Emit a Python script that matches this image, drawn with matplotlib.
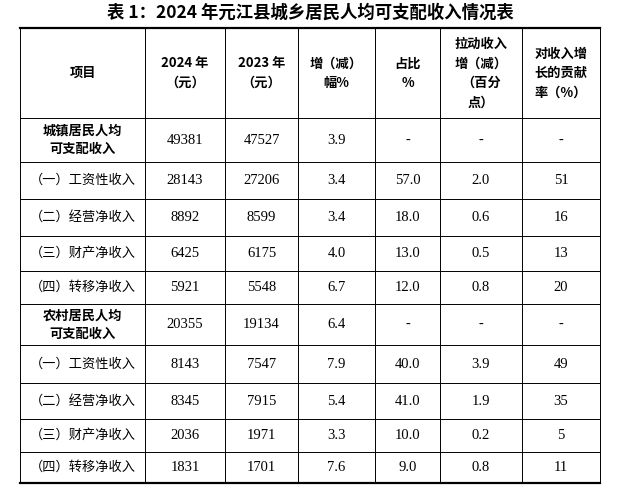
import matplotlib
matplotlib.use("Agg")
import matplotlib.pyplot as plt

plt.rcParams['font.family'] = ['Noto Sans CJK SC', 'DejaVu Sans']

title = "表 1：2024 年元江县城乡居民人均可支配收入情况表"
headers = ["项目", "2024 年\n（元）", "2023 年\n（元）", "增（减）\n幅%", "占比\n%", "拉动收入\n增（减）\n（百分\n点）", "对收入增\n长的贡献\n率（%）"]
items = ["城镇居民人均\n可支配收入", "（一）工资性收入", "（二）经营净收入", "（三）财产净收入", "（四）转移净收入",
         "农村居民人均\n可支配收入", "（一）工资性收入", "（二）经营净收入", "（三）财产净收入", "（四）转移净收入"]
bold_rows = [0, 5]
v2024 = ["49381", "28143", "8892", "6425", "5921", "20355", "8143", "8345", "2036", "1831"]
v2023 = ["47527", "27206", "8599", "6175", "5548", "19134", "7547", "7915", "1971", "1701"]
growth = ["3.9", "3.4", "3.4", "4.0", "6.7", "6.4", "7.9", "5.4", "3.3", "7.6"]
share = ["-", "57.0", "18.0", "13.0", "12.0", "-", "40.0", "41.0", "10.0", "9.0"]
pull = ["-", "2.0", "0.6", "0.5", "0.8", "-", "3.9", "1.9", "0.2", "0.8"]
contrib = ["-", "51", "16", "13", "20", "-", "49", "35", "5", "11"]

xs = [20, 145, 225, 298, 375, 440, 522, 600]
ys = [28, 118, 162, 199, 236, 271, 304, 345, 383, 419, 452, 483]

fig = plt.figure(figsize=(6.2, 4.9), dpi=100)
ax = fig.add_axes([0, 0, 1, 1])
ax.set_xlim(0, 620); ax.set_ylim(490, 0); ax.axis('off')

ax.text(310, 13, title, ha='center', va='center', fontsize=12.5, fontweight='bold')
for i, y in enumerate(ys):
    lw = 1.6 if i in (0, len(ys) - 1) else 0.7
    ax.plot([xs[0], xs[-1]], [y, y], color='black', lw=lw)
for x in xs:
    ax.plot([x, x], [ys[0], ys[-1]], color='black', lw=0.7)

def cx(j): return (xs[j] + xs[j + 1]) / 2
def cy(i): return (ys[i] + ys[i + 1]) / 2

for j, h in enumerate(headers):
    ax.text(cx(j), cy(0), h, ha='center', va='center', fontsize=9.5, fontweight='bold', linespacing=1.5)

cols = [v2024, v2023, growth, share, pull, contrib]
for r in range(len(items)):
    b = r in bold_rows
    ax.text(cx(0), cy(r + 1), items[r], ha='center', va='center', fontsize=9.5,
            fontweight='bold' if b else 'normal', linespacing=1.4)
    for j, col in enumerate(cols):
        ax.text(cx(j + 1), cy(r + 1), col[r], ha='center', va='center', fontsize=10.5,
                family=['Liberation Serif', 'DejaVu Serif'])

fig.savefig("out.png", dpi=100)
